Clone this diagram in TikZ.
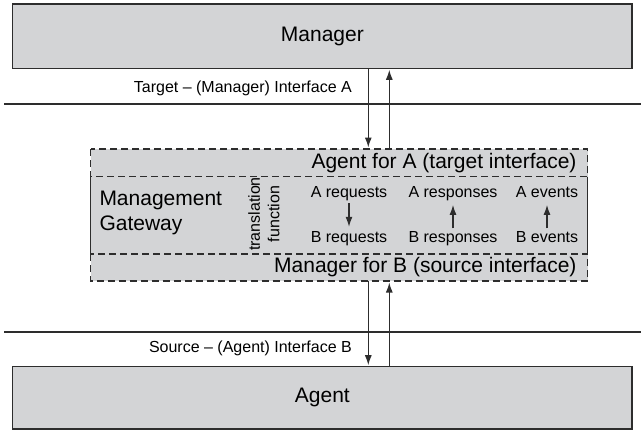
\documentclass[tikz,border=0pt]{standalone}
\usepackage{fontspec}
\setmainfont{Liberation Sans}
\usepackage{tikz}
\usetikzlibrary{arrows.meta, positioning, calc}
\definecolor{boxgray}{RGB}{211,212,214}
\definecolor{linegray}{RGB}{45,45,45}
\newcommand{\gwbig}{\fontsize{21}{25}\selectfont}
\newcommand{\gwsmall}{\fontsize{16}{19.5}\selectfont}
\tikzstyle{line} = [draw=linegray, -{Latex[length=10pt,width=7pt]}, line width=1.2pt, shorten >=1.5pt]
\tikzstyle{block} = [rectangle, draw=linegray, line width=1.5pt, fill=boxgray, minimum width=619.3pt, minimum height=64.3pt, inner sep=0pt, outer sep=0pt, font=\gwbig]
\tikzstyle{msg} = [inner sep=2pt, font=\gwsmall, text height=11.5pt, text depth=3.5pt]
\tikzstyle{gwdash} = [draw=linegray, line width=1.3pt, dash pattern=on 7pt off 4pt]
\tikzstyle{divider} = [draw=linegray, line width=1.5pt]

\begin{document}
\begin{tikzpicture}[x=1pt, y=-1pt, node distance=44.3pt]
        \useasboundingbox (0,0) rectangle (641,431);

        \node [block] (manager) at (322.35,36.15) {Manager};
        \node [block, minimum height=62.3pt] (agent) at (322.35,397.85) {Agent};
        \node [rectangle, fill=boxgray, minimum width=497pt, minimum height=132pt, inner sep=0pt, outer sep=0pt] (gateway) at (339.2,215) {};

        \path [divider] (4,104) -- (641,104);
        \path [divider] (4,332) -- (641,332);

        \path [gwdash] (gateway.north west) rectangle ($(gateway.north east)+(0,27.7)$);
        \path [gwdash] ($(gateway.south west)+(0,-27)$) rectangle (gateway.south east);
        \path [draw=linegray, line width=1.3pt] ($(gateway.north west)+(0,27.7)$) -- ($(gateway.south west)+(0,-27)$);
        \path [draw=linegray, line width=1.3pt] ($(gateway.north east)+(0,27.7)$) -- ($(gateway.south east)+(0,-27)$);

        \node [anchor=east, inner sep=0pt, font=\gwbig] (agentA) at ($(gateway.north east)+(-11,14)$) {Agent for A (target interface)};
        \node [anchor=east, inner sep=0pt, font=\gwbig] (managerB) at ($(gateway.south east)+(-11,-13.5)$) {Manager for B (source interface)};
        \node [anchor=west, align=left, inner sep=0pt, font=\gwbig] (gwname) at (99.3,212.5) {Management\\Gateway};
        \node [rotate=90, align=center, inner sep=0pt, font=\gwsmall] (transl) at (264,214) {translation\\function};

        \node [msg] (areq) at (349,193.7) {A requests};
        \node [msg, right of=areq, node distance=104pt] (aresp) {A responses};
        \node [msg, right of=aresp, node distance=94pt] (aevt) {A events};
        \node [msg, below of=areq] (breq) {B requests};
        \node [msg, below of=aresp] (bresp) {B responses};
        \node [msg, below of=aevt] (bevt) {B events};

        \path [line] (areq) -- (breq);
        \path [line] (bresp) -- (aresp);
        \path [line] (bevt) -- (aevt);

        \node [msg, anchor=east] (ifA) at (354,88) {Target -- (Manager) Interface A};
        \node [msg, anchor=east] (ifB) at (354,348) {Source -- (Agent) Interface B};

        \coordinate (downx) at (368.3,0);
        \coordinate (upx) at (389.3,0);
        \path [line] (manager.south -| downx) -- (gateway.north -| downx);
        \path [line] (gateway.north -| upx) -- (manager.south -| upx);
        \path [line] (gateway.south -| downx) -- (agent.north -| downx);
        \path [line] (agent.north -| upx) -- (gateway.south -| upx);
    \end{tikzpicture}
\end{document}
